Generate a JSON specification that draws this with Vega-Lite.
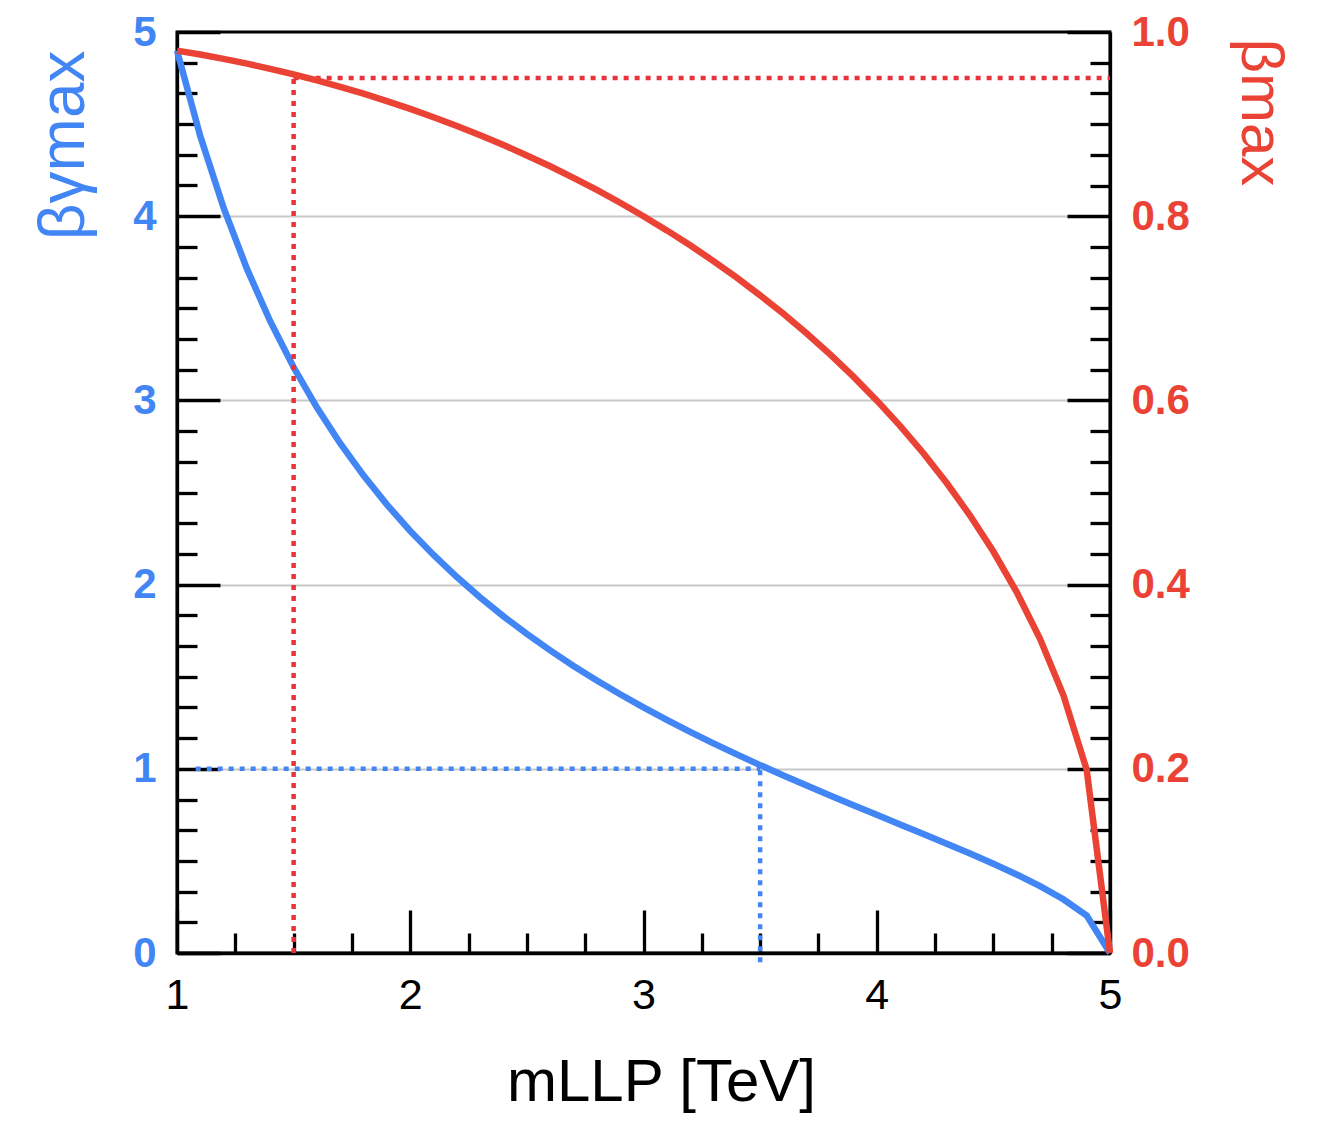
{
  "$schema": "https://vega.github.io/schema/vega-lite/v6.json",
  "width": 933,
  "height": 921,
  "autosize": {"type": "none"},
  "padding": {"left": 177, "top": 32, "right": 211, "bottom": 168},
  "background": "#ffffff",
  "config": {
    "view": {"stroke": "#000000", "strokeWidth": 3},
    "font": "Liberation Sans"
  },
  "datasets": {
    "curve": [
      {"m": 1.0, "bg": 4.899, "b": 0.9798},
      {"m": 1.1, "bg": 4.4341, "b": 0.9755},
      {"m": 1.2, "bg": 4.0449, "b": 0.9708},
      {"m": 1.3, "bg": 3.7139, "b": 0.9656},
      {"m": 1.4, "bg": 3.4286, "b": 0.96},
      {"m": 1.5, "bg": 3.1798, "b": 0.9539},
      {"m": 1.6, "bg": 2.9607, "b": 0.9474},
      {"m": 1.7, "bg": 2.766, "b": 0.9404},
      {"m": 1.8, "bg": 2.5915, "b": 0.933},
      {"m": 1.9, "bg": 2.4342, "b": 0.925},
      {"m": 2.0, "bg": 2.2913, "b": 0.9165},
      {"m": 2.1, "bg": 2.1608, "b": 0.9075},
      {"m": 2.2, "bg": 2.0409, "b": 0.898},
      {"m": 2.3, "bg": 1.9303, "b": 0.8879},
      {"m": 2.4, "bg": 1.8276, "b": 0.8773},
      {"m": 2.5, "bg": 1.7321, "b": 0.866},
      {"m": 2.6, "bg": 1.6426, "b": 0.8542},
      {"m": 2.7, "bg": 1.5586, "b": 0.8417},
      {"m": 2.8, "bg": 1.4795, "b": 0.8285},
      {"m": 2.9, "bg": 1.4045, "b": 0.8146},
      {"m": 3.0, "bg": 1.3333, "b": 0.8},
      {"m": 3.1, "bg": 1.2655, "b": 0.7846},
      {"m": 3.2, "bg": 1.2006, "b": 0.7684},
      {"m": 3.3, "bg": 1.1383, "b": 0.7513},
      {"m": 3.4, "bg": 1.0783, "b": 0.7332},
      {"m": 3.5, "bg": 1.0202, "b": 0.7141},
      {"m": 3.6, "bg": 0.9639, "b": 0.694},
      {"m": 3.7, "bg": 0.9089, "b": 0.6726},
      {"m": 3.8, "bg": 0.8552, "b": 0.6499},
      {"m": 3.9, "bg": 0.8023, "b": 0.6258},
      {"m": 4.0, "bg": 0.75, "b": 0.6},
      {"m": 4.1, "bg": 0.698, "b": 0.5724},
      {"m": 4.2, "bg": 0.6459, "b": 0.5426},
      {"m": 4.3, "bg": 0.5934, "b": 0.5103},
      {"m": 4.4, "bg": 0.5397, "b": 0.475},
      {"m": 4.5, "bg": 0.4843, "b": 0.4359},
      {"m": 4.6, "bg": 0.426, "b": 0.3919},
      {"m": 4.7, "bg": 0.363, "b": 0.3412},
      {"m": 4.8, "bg": 0.2917, "b": 0.28},
      {"m": 4.9, "bg": 0.2031, "b": 0.199},
      {"m": 5.0, "bg": 0, "b": 0}
    ],
    "blueH": [{"m": 1.08, "m2": 3.5, "v": 1}],
    "blueV": [{"m": 3.5, "v": -0.05, "v2": 1}],
    "redH": [{"m": 1.5, "m2": 5, "v": 0.95}],
    "redV": [{"m": 1.5, "v": 0, "v2": 0.95}]
  },
  "layer": [
    {
      "layer": [
        {
          "data": {"name": "blueV"},
          "mark": {"type": "rule", "color": "#4285F4", "strokeWidth": 4.5, "strokeDash": [5, 6]},
          "encoding": {
            "x": {"field": "m", "type": "quantitative", "scale": {"domain": [1, 5], "nice": false, "zero": false}, "axis": null},
            "y": {"field": "v", "type": "quantitative", "scale": {"domain": [0, 5], "nice": false},
              "axis": {"orient": "left", "values": [1, 2, 3, 4], "grid": true, "gridColor": "#c8c8c8", "gridWidth": 2, "ticks": false, "labels": false, "domain": false, "title": null}},
            "y2": {"field": "v2"}
          }
        },
        {
          "data": {"name": "blueH"},
          "mark": {"type": "rule", "color": "#4285F4", "strokeWidth": 4.5, "strokeDash": [5, 6]},
          "encoding": {
            "x": {"field": "m", "type": "quantitative", "scale": {"domain": [1, 5], "nice": false, "zero": false}, "axis": null},
            "x2": {"field": "m2"},
            "y": {"field": "v", "type": "quantitative", "scale": {"domain": [0, 5], "nice": false},
              "axis": {"orient": "left", "values": [0.1667, 0.3333, 0.5, 0.6667, 0.8333, 1.1667, 1.3333, 1.5, 1.6667, 1.8333, 2.1667, 2.3333, 2.5, 2.6667, 2.8333, 3.1667, 3.3333, 3.5, 3.6667, 3.8333, 4.1667, 4.3333, 4.5, 4.6667, 4.8333],
                "grid": false, "ticks": true, "tickSize": -20, "tickWidth": 3.3, "tickColor": "#000000", "labels": false, "domain": false, "title": null}}
          }
        },
        {
          "data": {"name": "curve"},
          "mark": {"type": "line", "color": "#4285F4", "strokeWidth": 6.5},
          "encoding": {
            "x": {"field": "m", "type": "quantitative", "scale": {"domain": [1, 5], "nice": false, "zero": false},
              "axis": {"orient": "bottom", "values": [1, 2, 3, 4, 5], "format": "d", "grid": false,
                "tickSize": -43, "tickWidth": 3.3, "tickColor": "#000000",
                "domain": true, "domainColor": "#000000", "domainWidth": 3.3,
                "labelFont": "Liberation Sans", "labelFontSize": 43, "labelColor": "#000000", "labelPadding": 64,
                "labelFlush": false, "labelOverlap": false, "labelBound": false,
                "title": "mLLP [TeV]", "titleFont": "Liberation Sans", "titleFontSize": 60, "titleFontWeight": "normal",
                "titleColor": "#000000", "titlePadding": 36, "titleX": 484}},
            "y": {"field": "bg", "type": "quantitative", "scale": {"domain": [0, 5], "nice": false},
              "axis": {"orient": "left", "values": [0, 1, 2, 3, 4, 5], "format": "d", "grid": false,
                "tickSize": -43, "tickWidth": 3.3, "tickColor": "#000000",
                "domain": true, "domainColor": "#000000", "domainWidth": 3.3,
                "labelFont": "Liberation Sans", "labelFontSize": 42, "labelFontWeight": "bold", "labelColor": "#4285F4", "labelPadding": 64,
                "labelFlush": false, "labelOverlap": false, "labelBound": false,
                "title": "βγmax", "titleFont": "Liberation Sans", "titleFontSize": 64, "titleFontWeight": "normal",
                "titleColor": "#4285F4", "titleAngle": -90, "titleAlign": "right", "titleBaseline": "alphabetic",
                "titleX": -94, "titleY": 18}}
          }
        }
      ],
      "resolve": {"axis": {"x": "independent", "y": "independent"}}
    },
    {
      "layer": [
        {
          "data": {"name": "redV"},
          "mark": {"type": "rule", "color": "#E8333B", "strokeWidth": 4.5, "strokeDash": [5, 6]},
          "encoding": {
            "x": {"field": "m", "type": "quantitative", "scale": {"domain": [1, 5], "nice": false, "zero": false}, "axis": null},
            "y": {"field": "v", "type": "quantitative", "scale": {"domain": [0, 1], "nice": false}, "axis": null},
            "y2": {"field": "v2"}
          }
        },
        {
          "data": {"name": "redH"},
          "mark": {"type": "rule", "color": "#E8333B", "strokeWidth": 4.5, "strokeDash": [5, 6]},
          "encoding": {
            "x": {"field": "m", "type": "quantitative", "scale": {"domain": [1, 5], "nice": false, "zero": false}, "axis": null},
            "x2": {"field": "m2"},
            "y": {"field": "v", "type": "quantitative", "scale": {"domain": [0, 1], "nice": false},
              "axis": {"orient": "right", "values": [0.0333, 0.0667, 0.1, 0.1333, 0.1667, 0.2333, 0.2667, 0.3, 0.3333, 0.3667, 0.4333, 0.4667, 0.5, 0.5333, 0.5667, 0.6333, 0.6667, 0.7, 0.7333, 0.7667, 0.8333, 0.8667, 0.9, 0.9333, 0.9667],
                "grid": false, "ticks": true, "tickSize": -20, "tickWidth": 3.3, "tickColor": "#000000", "labels": false, "domain": false, "title": null}}
          }
        },
        {
          "data": {"name": "curve"},
          "mark": {"type": "line", "color": "#EA4335", "strokeWidth": 6.5},
          "encoding": {
            "x": {"field": "m", "type": "quantitative", "scale": {"domain": [1, 5], "nice": false, "zero": false},
              "axis": {"orient": "bottom", "values": [1.25, 1.5, 1.75, 2.25, 2.5, 2.75, 3.25, 3.5, 3.75, 4.25, 4.5, 4.75],
                "grid": false, "ticks": true, "tickSize": -20, "tickWidth": 3.3, "tickColor": "#000000", "labels": false, "domain": false, "title": null}},
            "y": {"field": "b", "type": "quantitative", "scale": {"domain": [0, 1], "nice": false},
              "axis": {"orient": "right", "values": [0, 0.2, 0.4, 0.6, 0.8, 1], "format": ".1f", "grid": false,
                "tickSize": -43, "tickWidth": 3.3, "tickColor": "#000000",
                "domain": true, "domainColor": "#000000", "domainWidth": 3.3,
                "labelFont": "Liberation Sans", "labelFontSize": 42, "labelFontWeight": "bold", "labelColor": "#EA4335", "labelPadding": 64,
                "labelFlush": false, "labelOverlap": false, "labelBound": false,
                "title": "βmax", "titleFont": "Liberation Sans", "titleFontSize": 60, "titleFontWeight": "normal",
                "titleColor": "#EA4335", "titleAngle": 90, "titleAlign": "left", "titleBaseline": "alphabetic",
                "titleX": 131, "titleY": 6}}
          }
        }
      ],
      "resolve": {"axis": {"x": "independent", "y": "independent"}}
    }
  ],
  "resolve": {"scale": {"y": "independent"}, "axis": {"x": "independent", "y": "independent"}}
}
